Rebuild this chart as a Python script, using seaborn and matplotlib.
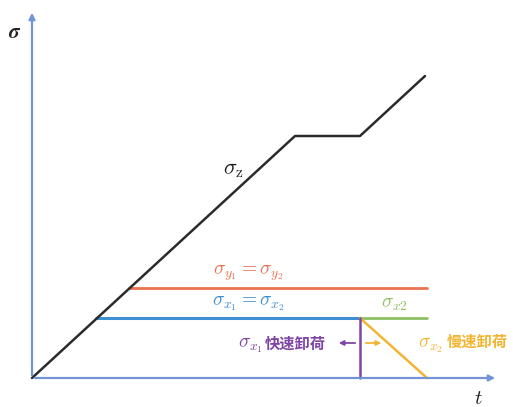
import numpy as np
import pandas as pd
import matplotlib
matplotlib.use("Agg")
import matplotlib.pyplot as plt
import seaborn as sns

# values (t, sigma in arbitrary units)
sz_t = [0, 263, 328, 393]
sz_s = [0, 242, 242, 302]

sy_t = [97, 395]
sy_s = [90, 90]

sx_t = [64, 328]
sx_s = [60, 60]

sx2_t = [328, 395]
sx2_s = [60, 60]

fast_t = [328, 328]
fast_s = [60, 0]

slow_t = [328, 395]
slow_s = [60, 0]

sns.set_theme(style="white")
plt.rcParams['font.family'] = ['DejaVu Sans', 'Noto Sans CJK SC']
plt.rcParams['mathtext.fontset'] = 'cm'

c_black = '#2b2b2b'
c_orange = '#e8734f'
c_blue = '#3d8fd1'
c_green = '#8cc063'
c_purple = '#7e45a6'
c_yellow = '#f2b531'
c_axis = '#7393d6'

fig = plt.figure(figsize=(5.13, 4.07), dpi=100)
ax = fig.add_axes([0, 0, 1, 1])
ax.set_xlim(-32, 481)
ax.set_ylim(-29, 378)
ax.axis('off')

# axes arrows
ax.annotate('', xy=(0, 368), xytext=(0, 0),
            arrowprops=dict(arrowstyle='-|>', color=c_axis, lw=1.6, mutation_scale=9))
ax.annotate('', xy=(466, 0), xytext=(0, 0),
            arrowprops=dict(arrowstyle='-|>', color=c_axis, lw=1.6, mutation_scale=9))

# estimator=None so vertical segments are drawn as-is
sns.lineplot(x=sy_t, y=sy_s, color=c_orange, lw=2, ax=ax, estimator=None)
sns.lineplot(x=sx_t, y=sx_s, color=c_blue, lw=2.2, ax=ax, estimator=None)
sns.lineplot(x=sx2_t, y=sx2_s, color=c_green, lw=2, ax=ax, estimator=None)
sns.lineplot(x=slow_t, y=slow_s, color=c_yellow, lw=1.8, ax=ax, sort=False, estimator=None)
sns.lineplot(x=fast_t, y=fast_s, color=c_purple, lw=1.8, ax=ax, sort=False, estimator=None)
sns.lineplot(x=sz_t, y=sz_s, color=c_black, lw=1.8, ax=ax, sort=False, estimator=None)

# small arrows for unloading
ax.annotate('', xy=(304, 35), xytext=(326, 35),
            arrowprops=dict(arrowstyle='-|>', color=c_purple, lw=1.3, mutation_scale=7))
ax.annotate('', xy=(352, 35), xytext=(331, 35),
            arrowprops=dict(arrowstyle='-|>', color=c_yellow, lw=1.3, mutation_scale=7))

# labels
ax.text(-17, 346, r'$\boldsymbol{\sigma}$', fontsize=15, color='#222222', ha='center', va='center')
ax.text(446, -20, r'$t$', fontsize=15, color='#222222', ha='center', va='center')
ax.text(201, 208, r'$\sigma_{\mathrm{z}}$', fontsize=16, color='#222222', ha='center', va='center')
ax.text(216, 105, r'$\sigma_{y_1}=\sigma_{y_2}$', fontsize=14, color=c_orange, ha='center', va='center')
ax.text(216, 75, r'$\sigma_{x_1}=\sigma_{x_2}$', fontsize=14, color=c_blue, ha='center', va='center')
ax.text(362, 75, r'$\sigma_{x2}$', fontsize=14, color=c_green, ha='center', va='center')

ax.text(231, 33, r'$\sigma_{x_1}$', fontsize=14, color=c_purple, ha='right', va='center')
ax.text(233, 34, '快速卸荷', fontsize=11, color=c_purple, ha='left', va='center',
        family=['Noto Sans CJK SC'], fontweight='bold')
ax.text(386, 33, r'$\sigma_{x_2}$', fontsize=14, color=c_yellow, ha='left', va='center')
ax.text(415, 36, '慢速卸荷', fontsize=11, color=c_yellow, ha='left', va='center',
        family=['Noto Sans CJK SC'], fontweight='bold')

fig.savefig('out.png', dpi=100)
